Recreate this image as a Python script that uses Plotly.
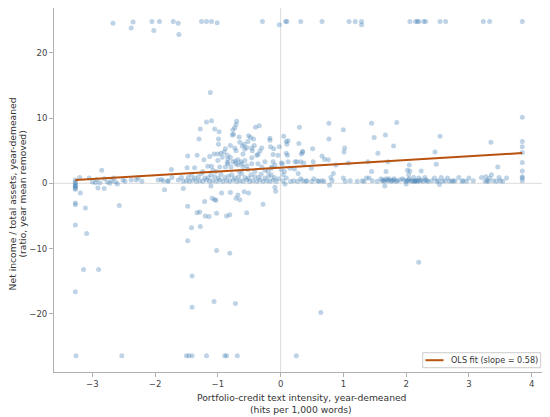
import plotly.graph_objects as go

# points clipped at the top of the y range
top_x = [-2.67, -2.38, -2.35, -2.05, -2.02, -1.93, -1.71, -1.63, -1.62, -1.26, -1.18, -1.10,
         -1.01, -0.29, -0.02, 0.08, 0.10, 0.32, 0.66, 1.09, 1.19, 1.29, 1.29, 2.06, 2.15,
         2.18, 2.20, 2.28, 2.31, 2.54, 2.63, 3.23, 3.33, 3.85]
top_y = [24.5, 23.8, 24.7, 24.8, 23.4, 24.8, 24.8, 24.5, 22.8, 24.8, 24.8, 24.8,
         24.6, 24.8, 24.3, 24.8, 24.8, 24.8, 24.8, 24.8, 24.8, 24.8, 24.3, 24.8, 24.8,
         24.8, 24.8, 24.8, 24.8, 24.8, 24.8, 24.8, 24.8, 24.8]

# points clipped at the bottom
bottom_x = [-3.26, -2.53, -1.50, -1.46, -1.41, -1.18, -0.89, -0.86, -0.69, 0.25]
bottom_y = [-26.4, -26.4, -26.4, -26.4, -26.4, -26.4, -26.4, -26.4, -26.4, -26.4]

# clipped columns at the x extremes
left_edge_y = [0.5, 0.0, -0.3, -0.4, -0.5, -0.8, -0.9, 0.2, -3.0, -3.3, -6.4, -16.6]
right_edge_y = [10.1, 6.4, 5.6, 4.7, 3.2, 1.9, 1.0, 0.8, 0.4]
left_edge_x = -3.27
right_edge_x = 3.85

# negative tail
neg_x = [-3.19, -3.11, -3.09, -3.14, -2.90, -2.57, -2.91, -2.81, -1.85, -1.55,
         -1.48, -1.21, -1.03, -1.29, -1.33, -1.20, -1.14, -1.02, -0.86, -0.81,
         -0.54, -0.28, -1.42, -1.28, -1.48, -1.02, -0.81, -1.41, -1.41, -1.06,
         -0.72, 0.64, 2.20, -1.11, -0.80, -0.68, -0.58, -0.51, -0.94, -1.09,
         -1.05, -0.71, -0.65, -0.08, -0.09, 0.07, 0.78, 1.66, 2.00, 2.53]
neg_y = [-1.5, -3.8, -7.7, -13.2, -13.2, -3.4, -0.7, -0.8, -1.0, -0.8,
         -3.5, -2.8, -2.6, -4.4, -4.5, -5.0, -5.1, -4.6, -5.0, -4.8,
         -4.5, -3.2, -6.8, -6.6, -8.8, -10.3, -10.7, -14.2, -19.0, -18.1,
         -18.4, -19.8, -12.1, -0.4, -1.4, -1.8, -1.3, -1.5, -1.5, -2.3,
         -2.5, -2.3, -2.5, -1.2, -0.6, -0.1, -0.3, -0.4, -0.1, -0.2]

# sparse band on the left
left_band_x = [-3.05, -3.00, -2.95, -2.93, -2.88, -2.85, -2.81, -2.76, -2.72, -2.69,
               -2.66, -2.63, -2.60, -2.51, -2.48, -2.38, -2.30, -2.27, -2.21, -1.95,
               -1.90, -1.80, -1.73, -1.74, -1.58, -1.55, -1.87, -1.79, -1.63, -3.20]
left_band_y = [0.8, 0.2, 0.1, 0.6, 0.1, 2.0, 0.7, 0.2, 0.0, 0.4,
               0.8, 0.2, -0.1, 0.5, 0.3, 0.5, 0.5, 0.8, 0.3, 0.5,
               0.6, 0.3, 0.9, 2.1, 0.9, 0.3, 0.4, 0.4, 0.5, 0.9]

# dense band just below zero on x
mid_band_x = [-1.50, -1.45, -1.40, -1.34, -1.29, -1.24, -1.18, -1.13, -1.08, -1.02,
              -0.97, -0.92, -0.86, -0.81, -0.76, -0.70, -0.65, -0.60, -0.54, -0.49,
              -0.44, -0.38, -0.33, -0.28, -0.22, -0.17, -0.12, -0.07,
              -1.47, -1.37, -1.31, -1.21, -1.15, -1.05, -0.99, -0.89, -0.83, -0.73,
              -0.67, -0.57, -0.51, -0.41, -0.35, -0.25, -0.19, -0.10, -0.03,
              -1.42, -1.26, -1.11, -0.95, -0.78, -0.62, -0.47, -0.31, -0.15]
mid_band_y = [0.4, 0.3, 0.5, 0.3, 0.4, 0.3, 0.5, 0.3, 0.4, 0.3,
              0.5, 0.3, 0.4, 0.3, 0.5, 0.3, 0.4, 0.3, 0.5, 0.3,
              0.4, 0.3, 0.5, 0.3, 0.4, 0.3, 0.5, 0.3,
              0.9, 0.8, 1.0, 0.8, 0.9, 1.0, 0.8, 0.9, 1.1, 0.8,
              1.0, 0.9, 0.8, 1.0, 0.9, 0.8, 1.1, 0.9, 0.7,
              1.3, 1.5, 1.3, 1.4, 1.3, 1.5, 1.3, 1.4, 1.3]

# main cloud above the band
cloud_x = [-1.49, -1.37, -1.24, -1.10, -1.08, -1.03, -0.97, -0.88, -0.84, -0.79,
           -0.76, -0.71, -0.68, -0.66, -0.62, -0.60, -0.54, -0.52, -0.46, -0.41,
           -0.36, -0.30, -0.25, -0.20, -0.14, -0.09, 0.03, 0.06, -0.15, -1.16,
           -1.12, -1.18, -1.10, -1.28, -1.05, -0.98, -1.30, -0.99, -0.99, -0.70,
           -0.71, -0.73, -0.76, -0.77, -0.66, -0.65, -0.40, -0.34, -0.51, -0.48,
           -0.43, -0.54, -0.17, -0.17, -0.16, -0.11, -0.02, -0.95, -0.93, -0.84,
           -0.72, -0.68, -0.63, -0.57, -1.13, -1.22, -1.48, -1.33, -0.46, -0.38,
           -0.33, -0.30, -0.25, -0.12, -0.04, -0.12, -0.88, -0.80, -0.90, -0.60,
           -0.45, -0.85, -1.00, -0.58, -0.36, -0.73, -0.71, -0.61, -0.57, -1.06,
           -1.00, -0.85, -0.80, -0.52, -0.46, -0.42, -0.75]
cloud_y = [2.4, 2.4, 1.8, 2.6, 2.0, 1.8, 2.5, 2.5, 3.0, 2.5,
           3.3, 3.0, 2.8, 1.8, 3.0, 2.5, 2.7, 2.1, 3.0, 1.8,
           3.0, 2.5, 2.0, 1.8, 2.5, 2.8, 3.0, 1.8, 2.3, 2.6,
           13.9, 9.4, 9.6, 8.3, 8.3, 7.9, 6.8, 6.8, 6.0, 9.5,
           9.0, 8.5, 8.2, 7.4, 7.1, 6.3, 8.6, 8.8, 7.3, 7.0,
           6.8, 5.5, 6.9, 6.6, 5.6, 5.3, 5.6, 4.6, 4.0, 3.7,
           3.4, 3.6, 3.3, 3.5, 4.1, 3.6, 4.2, 4.3, 3.9, 4.3,
           4.9, 5.4, 3.3, 3.3, 4.3, 4.4, 5.3, 5.8, 4.8, 4.5,
           5.0, 3.2, 3.5, 6.0, 4.4, 5.4, 5.0, 5.7, 5.2, 4.5,
           4.5, 4.3, 4.0, 6.4, 5.4, 5.8, 7.5]

# band to the right of zero
right_band_x = [0.04, 0.16, 0.21, 0.27, 0.35, 0.40, 0.42, 0.50, 0.59, 0.61,
                0.66, 0.69, 0.82, 1.03, 1.11, 1.22, 1.30, 1.33, 1.46, 1.54,
                1.62, 1.65, 1.70, 1.76, 1.78, 1.84, 1.86, 2.00, 2.02, 2.08,
                2.10, 2.13, 2.15, 2.14, 2.17, 2.19, 2.22, 2.27, 2.33, 2.35,
                2.41, 2.49, 2.51, 2.58, 2.62, 2.69, 2.73, 2.75, 2.78, 2.89,
                2.91, 2.96, 3.07, 3.26, 3.29, 3.31, 3.39, 3.44, 3.50, 3.54,
                0.09, 0.32, 0.53, 0.80, 1.00, 1.41, 1.60, 1.68, 1.73, 1.81,
                1.94, 2.05, 2.12, 2.20, 2.30, 2.45, 2.56, 2.66, 2.84, 3.00,
                3.20, 3.33, 3.48, 3.60,
                1.64, 1.72, 1.80, 1.90, 1.97, 2.04, 2.24, 2.31]
right_band_y = [0.4, 0.3, 0.4, 0.3, 0.4, 0.3, 0.4, 0.3, 0.4, 0.3,
                0.4, 0.3, 0.4, 0.3, 0.4, 0.3, 0.4, 0.3, 0.4, 0.3,
                0.4, 0.3, 0.4, 0.3, 0.4, 0.3, 0.4, 0.3, 0.4, 0.3,
                0.4, 0.3, 0.4, 0.3, 0.4, 0.3, 0.4, 0.3, 0.4, 0.3,
                0.4, 0.3, 0.4, 0.3, 0.4, 0.3, 0.4, 0.3, 0.4, 0.3,
                0.4, 0.3, 0.4, 0.3, 0.4, 0.3, 0.4, 0.3, 0.4, 0.3,
                0.8, 0.7, 0.7, 0.9, 0.8, 0.8, 0.7, 0.7, 0.7, 0.7,
                0.7, 0.7, 0.9, 0.8, 0.9, 0.8, 0.9, 0.8, 0.9, 0.8,
                0.9, 0.8, 0.9, 0.8,
                0.5, 0.5, 0.5, 0.5, 0.5, 0.5, 0.5, 0.5]

# scattered points above the right band
right_cloud_x = [0.05, 0.09, 0.10, 0.09, 0.01, 0.12, 0.01, 0.15, 0.23, 0.22, 0.04,
                 0.30, 0.29, 0.35, 0.35, 0.32, 0.37, 0.28, 0.33, 0.11, 0.12,
                 0.51, 0.52, 0.49, 0.66, 0.70, 0.77, 0.77, 0.76, 0.84, 0.88,
                 1.00, 1.02, 1.01, 1.08, 1.37, 1.45, 1.49, 1.55, 1.45, 1.39,
                 1.67, 1.71, 1.68, 1.85, 1.80, 2.05, 2.06, 2.02, 2.04, 2.24,
                 2.54, 2.46, 2.48, 3.35, 3.46, 3.36, 3.27, 0.26]
right_cloud_y = [7.2, 6.4, 6.0, 4.6, 3.1, 3.3, 2.1, 2.3, 3.3, 2.2, 1.3,
                 8.6, 6.1, 4.9, 4.7, 3.3, 3.1, 1.5, 4.5, 4.3, 6.5,
                 5.3, 3.3, 2.3, 4.2, 3.7, 9.2, 6.8, 3.6, 1.5, 2.8,
                 8.2, 5.4, 4.8, 3.1, 0.8, 9.2, 7.0, 4.6, 1.8, 3.3,
                 7.4, 3.3, 1.8, 9.3, 5.7, 2.8, 1.9, 2.0, 1.3, 1.9,
                 7.2, 4.8, 2.9, 6.3, 2.5, 1.3, 1.0, 3.3]

# OLS fit line end points
fit_x = [-3.27, 3.85]
fit_y = [0.50, 4.63]
fit_label = "OLS fit (slope = 0.58)"

y_title = ["Net income / total assets, year-demeaned", "(ratio, year mean removed)"]
x_title = ["Portfolio-credit text intensity, year-demeaned", "(hits per 1,000 words)"]

xs = (top_x + bottom_x + [left_edge_x] * len(left_edge_y) + [right_edge_x] * len(right_edge_y)
      + neg_x + left_band_x + mid_band_x + cloud_x + right_band_x + right_cloud_x)
ys = (top_y + bottom_y + left_edge_y + right_edge_y
      + neg_y + left_band_y + mid_band_y + cloud_y + right_band_y + right_cloud_y)

font = "DejaVu Sans, Arial, sans-serif"
text_color = "#333333"
fit_color = "#b8520f"
fig = go.Figure()

fig.add_shape(type="line", xref="x", yref="paper", x0=0, x1=0, y0=0, y1=1,
              line=dict(color="#dcdcdc", width=1), layer="below")
fig.add_shape(type="line", xref="paper", yref="y", x0=0, x1=1, y0=0, y1=0,
              line=dict(color="#dcdcdc", width=1), layer="below")

fig.add_trace(go.Scatter(
    x=xs, y=ys, mode="markers", showlegend=False, hoverinfo="skip",
    marker=dict(size=5, color="rgba(70,130,180,0.35)", line=dict(width=0)),
))
fig.add_trace(go.Scatter(
    x=fit_x, y=fit_y, mode="lines", name=fit_label, showlegend=False,
    line=dict(color=fit_color, width=2),
))

axis_common = dict(
    showline=True, linecolor="#b0b0b0", linewidth=1,
    ticks="outside", ticklen=4, tickcolor="#b0b0b0", tickwidth=1,
    showgrid=False, zeroline=False,
    tickfont=dict(family=font, size=8.5, color="#444444"),
)
fig.update_xaxes(range=[-3.61, 4.26], tickvals=[-3, -2, -1, 0, 1, 2, 3, 4], **axis_common)
fig.update_yaxes(range=[-28.9, 26.85], tickvals=[-20, -10, 0, 10, 20], **axis_common)

# axis titles, one annotation per line to keep the tight line spacing
for xpos, line in zip([-0.0835, -0.063], y_title):
    fig.add_annotation(
        text=line, xref="paper", yref="paper", x=xpos, y=0.49, textangle=-90,
        showarrow=False, xanchor="center", yanchor="middle",
        font=dict(family=font, size=9.2, color=text_color),
    )
for ypos, line in zip([-0.071, -0.103], x_title):
    fig.add_annotation(
        text=line, xref="paper", yref="paper", x=0.5, y=ypos,
        showarrow=False, xanchor="center", yanchor="middle",
        font=dict(family=font, size=9.2, color=text_color),
    )

# compact matplotlib-style legend box in the lower right corner
fig.add_shape(type="rect", xref="paper", yref="paper", x0=0.7464, x1=0.9852, y0=0.0118, y1=0.053,
              line=dict(color="#cccccc", width=1), fillcolor="rgba(255,255,255,0.85)")
fig.add_shape(type="line", xref="paper", yref="paper", x0=0.752, x1=0.7885, y0=0.0324, y1=0.0324,
              line=dict(color=fit_color, width=2))
fig.add_annotation(
    text=fit_label, xref="paper", yref="paper", x=0.7996, y=0.0324,
    showarrow=False, xanchor="left", yanchor="middle",
    font=dict(family=font, size=8.1, color=text_color),
)

# the page body adds an 8px offset, so the figure is sized to fit inside it
fig.update_layout(
    width=542, height=409,
    margin=dict(l=46, r=2, t=0, b=45),
    paper_bgcolor="white", plot_bgcolor="white",
    font=dict(family=font, size=9, color=text_color),
    showlegend=False,
)

fig.write_html("out.html")
